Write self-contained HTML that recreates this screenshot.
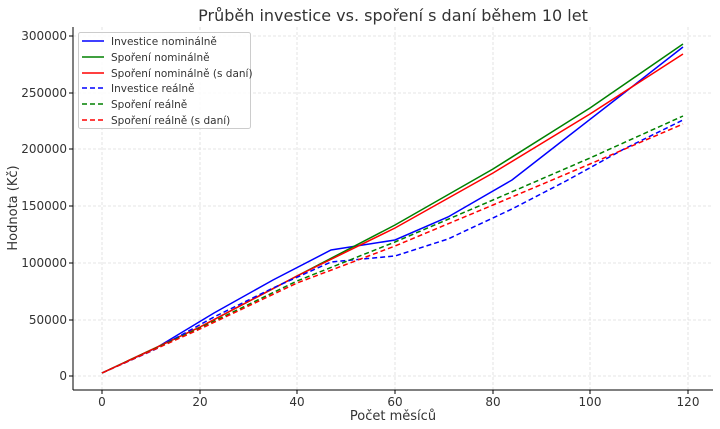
<!DOCTYPE html><html><head><style>body{margin:0;background:#fff}svg{display:block;font-family:"DejaVu Sans","Liberation Sans",sans-serif}</style></head><body>
<svg width="720" height="429" xmlns="http://www.w3.org/2000/svg">
<rect width="720" height="429" fill="#fff"/>
<g stroke="#dcdcdc" stroke-width="0.8" stroke-dasharray="3,2">
<line x1="102" y1="27" x2="102" y2="390"/><line x1="200" y1="27" x2="200" y2="390"/><line x1="297" y1="27" x2="297" y2="390"/><line x1="395" y1="27" x2="395" y2="390"/><line x1="493" y1="27" x2="493" y2="390"/><line x1="590" y1="27" x2="590" y2="390"/><line x1="688" y1="27" x2="688" y2="390"/>
<line x1="73" y1="376" x2="713" y2="376"/><line x1="73" y1="320" x2="713" y2="320"/><line x1="73" y1="263" x2="713" y2="263"/><line x1="73" y1="206" x2="713" y2="206"/><line x1="73" y1="149" x2="713" y2="149"/><line x1="73" y1="93" x2="713" y2="93"/><line x1="73" y1="36" x2="713" y2="36"/>
</g>
<g fill="none" stroke-width="1.5">
<polyline stroke="#0000ff" points="102,373 156,348 214,313 273,280 331,250 395,240 448,217 512,180 566,138 624,93 683,47"/>
<polyline stroke="#008000" points="102,373 200,327 297,276 395,225 493,169 590,108 683,44"/>
<polyline stroke="#ff0000" points="102,373 200,327 297,276 395,228 493,173 590,114 683,54"/>
<g stroke-dasharray="5,3">
<polyline stroke="#0000ff" points="102,373 156,349 214,317 273,288 331,262 395,256 448,239 512,209 566,181 624,149 683,120"/>
<polyline stroke="#008000" points="102,373 200,328 297,281 395,242 493,200 590,158 683,116"/>
<polyline stroke="#ff0000" points="102,373 200,329 297,283 395,246 493,205 590,164 683,124"/>
</g></g>
<g stroke="#000" stroke-width="1"><line x1="73" y1="27" x2="73" y2="390"/><line x1="73" y1="390" x2="713" y2="390"/>
<line x1="69" y1="376" x2="73" y2="376"/><line x1="69" y1="320" x2="73" y2="320"/><line x1="69" y1="263" x2="73" y2="263"/><line x1="69" y1="206" x2="73" y2="206"/><line x1="69" y1="149" x2="73" y2="149"/><line x1="69" y1="93" x2="73" y2="93"/><line x1="69" y1="36" x2="73" y2="36"/>
<line x1="102" y1="390" x2="102" y2="394"/><line x1="200" y1="390" x2="200" y2="394"/><line x1="297" y1="390" x2="297" y2="394"/><line x1="395" y1="390" x2="395" y2="394"/><line x1="493" y1="390" x2="493" y2="394"/><line x1="590" y1="390" x2="590" y2="394"/><line x1="688" y1="390" x2="688" y2="394"/></g>
<g font-size="12" fill="#333" text-anchor="end">
<text x="67" y="380">0</text><text x="67" y="324">50000</text><text x="67" y="267">100000</text><text x="67" y="210">150000</text><text x="67" y="153">200000</text><text x="67" y="97">250000</text><text x="67" y="40">300000</text></g>
<g font-size="12" fill="#333" text-anchor="middle">
<text x="102" y="406">0</text><text x="200" y="406">20</text><text x="297" y="406">40</text><text x="395" y="406">60</text><text x="493" y="406">80</text><text x="590" y="406">100</text><text x="688" y="406">120</text>
<text x="393" y="420" font-size="13">Počet měsíců</text>
<text x="393" y="21" font-size="16">Průběh investice vs. spoření s daní během 10 let</text>
<text transform="translate(17,208) rotate(-90)" font-size="13">Hodnota (Kč)</text></g>
<rect x="78.5" y="32.5" width="172" height="96" fill="#fff" fill-opacity="0.85" stroke="#ccc" rx="2"/>
<g stroke-width="1.5"><line x1="82" y1="41" x2="104" y2="41" stroke="#00f"/><line x1="82" y1="57" x2="104" y2="57" stroke="#008000"/><line x1="82" y1="73" x2="104" y2="73" stroke="#f00"/>
<g stroke-dasharray="5,3"><line x1="82" y1="88" x2="104" y2="88" stroke="#00f"/><line x1="82" y1="104" x2="104" y2="104" stroke="#008000"/><line x1="82" y1="120" x2="104" y2="120" stroke="#f00"/></g></g>
<g font-size="10.5" fill="#333"><text x="111" y="45">Investice nominálně</text><text x="111" y="61">Spoření nominálně</text><text x="111" y="77">Spoření nominálně (s daní)</text><text x="111" y="92">Investice reálně</text><text x="111" y="108">Spoření reálně</text><text x="111" y="124">Spoření reálně (s daní)</text></g>
</svg></body></html>
